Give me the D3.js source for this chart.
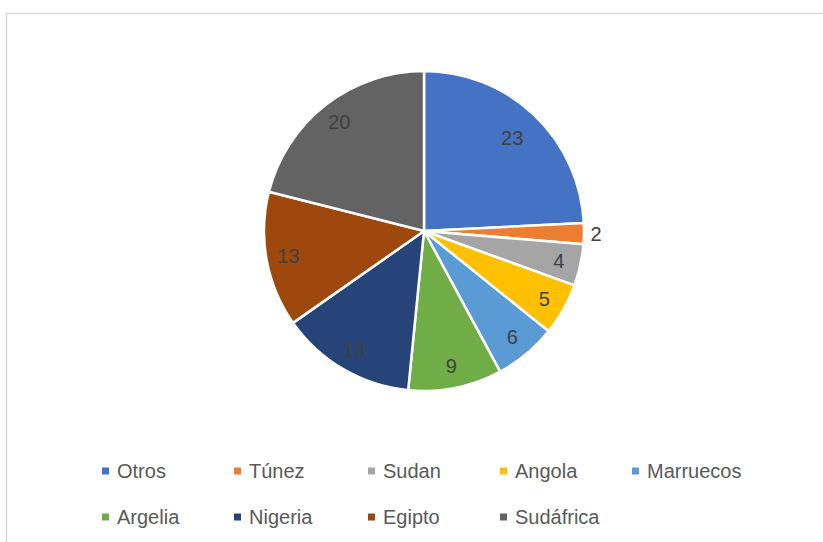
<!DOCTYPE html>
<html>
<head>
<meta charset="utf-8">
<script src="https://cdn.jsdelivr.net/npm/d3@7"></script>
<style>
  body { margin: 0; background: #fff; }
  text { font-family: "Liberation Sans", Arial, sans-serif; }
</style>
</head>
<body>
<div id="chart"></div>
<script>
const countries = ["Otros", "Túnez", "Sudan", "Angola", "Marruecos", "Argelia", "Nigeria", "Egipto", "Sudáfrica"];
const values = [23, 2, 4, 5, 6, 9, 13, 13, 20];
const colors = ["#4472C4", "#ED7D31", "#A5A5A5", "#FFC000", "#5B9BD5", "#70AD47", "#264478", "#9E480E", "#636363"];

const width = 823, height = 542;
const cx = 424, cy = 231, radius = 160;

const data = countries.map((c, i) => ({ country: c, value: values[i], color: colors[i] }));

const svg = d3.select("#chart")
    .append("svg")
    .attr("width", width)
    .attr("height", height);

// chart area border (cropped on right/bottom)
svg.append("rect")
    .attr("x", 6.5)
    .attr("y", 13.5)
    .attr("width", 840)
    .attr("height", 560)
    .attr("fill", "#fff")
    .attr("stroke", "#d9d9d9")
    .attr("stroke-width", 1.5);

const pie = d3.pie().sort(null).value(d => d.value);
const arcs = pie(data);

const arc = d3.arc().innerRadius(0).outerRadius(radius);

const g = svg.append("g").attr("transform", `translate(${cx}, ${cy})`);

g.selectAll("path")
    .data(arcs)
    .enter()
    .append("path")
    .attr("d", arc)
    .attr("fill", d => d.data.color)
    .attr("stroke", "#fff")
    .attr("stroke-width", 2.5);

// data labels: inside near the rim, small slice placed outside
g.selectAll("text.lbl")
    .data(arcs)
    .enter()
    .append("text")
    .attr("class", "lbl")
    .attr("transform", d => {
        const r = d.data.value < 3 ? 172 : (d.data.value > 20 ? 128 : 138);
        const a = (d.startAngle + d.endAngle) / 2;
        return `translate(${Math.sin(a) * r}, ${-Math.cos(a) * r})`;
    })
    .attr("text-anchor", "middle")
    .attr("dy", "0.36em")
    .attr("fill", "#404040")
    .style("font-size", "20px")
    .text(d => d.value);

// legend
const colX = [102, 234, 368, 500, 632];
const rowY = [471, 517];

const legend = svg.selectAll("g.legend")
    .data(data)
    .enter()
    .append("g")
    .attr("class", "legend")
    .attr("transform", (d, i) => `translate(${colX[i % 5]}, ${rowY[Math.floor(i / 5)]})`);

legend.append("rect")
    .attr("x", 0)
    .attr("y", -3.5)
    .attr("width", 7)
    .attr("height", 7)
    .attr("fill", d => d.color);

legend.append("text")
    .attr("x", 15)
    .attr("dy", "0.36em")
    .attr("fill", "#595959")
    .style("font-size", "20px")
    .text(d => d.country);
</script>
</body>
</html>
